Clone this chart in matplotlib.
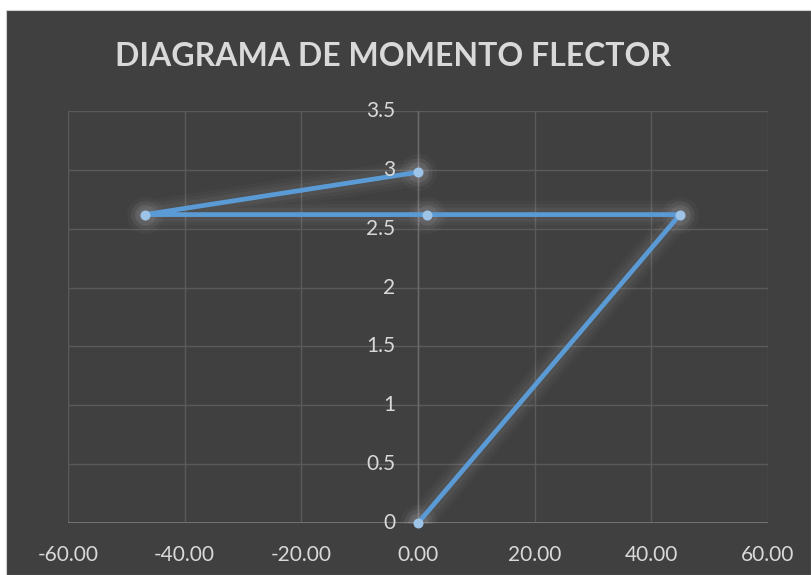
import matplotlib
matplotlib.use("Agg")
import matplotlib.pyplot as plt
from matplotlib.patches import Rectangle

# Data (moment diagram points)
x_vals = [0.0, 44.9, 1.5, -46.8, 0.0]
y_vals = [0.0, 2.62, 2.62, 2.62, 2.98]
x_ticks = [-60, -40, -20, 0, 20, 40, 60]
y_ticks = [0, 0.5, 1, 1.5, 2, 2.5, 3, 3.5]
y_tick_labels = ["0", "0.5", "1", "1.5", "2", "2.5", "3", "3.5"]
title = "DIAGRAMA DE MOMENTO FLECTOR"

BG = "#404040"
GRID = "#5a5a5a"
TXT = "#d9d9d9"
LINE = "#5b9bd5"
MARK = "#9dc3e6"
FONT = "Lato"

W, H = 811, 575
fig = plt.figure(figsize=(W / 100, H / 100), dpi=100, facecolor="white")
fig.patches.append(Rectangle((6 / W, 0), 1 - 6 / W, 1 - 10 / H, transform=fig.transFigure,
                             facecolor=BG, edgecolor="#d0d0d0", linewidth=0.8, zorder=-5))

ax = fig.add_axes([68 / W, 1 - 523 / H, 700 / W, 412 / H])
ax.set_facecolor(BG)
ax.patch.set_alpha(0)
ax.set_xlim(-60, 60)
ax.set_ylim(0, 3.5)

for s in ax.spines.values():
    s.set_visible(False)
ax.set_xticks(x_ticks)
ax.set_yticks(y_ticks)
ax.tick_params(length=0, labelleft=False, labelbottom=False)
ax.grid(True, color=GRID, linewidth=1.0, zorder=1)
ax.axhline(0, color="#7a7a7a", linewidth=1.2, zorder=2)
ax.axvline(0, color="#6a6a6a", linewidth=1.0, zorder=2)

# x tick labels
for xv in x_ticks:
    ax.annotate(f"{xv:.2f}", xy=(xv, 0), xytext=(0, -23), textcoords="offset points",
                ha="center", va="center", color=TXT, fontsize=15, family=FONT,
                zorder=5, annotation_clip=False)
# y tick labels next to vertical axis at x=0
for yv, lab in zip(y_ticks, y_tick_labels):
    ax.annotate(lab, xy=(0, yv), xytext=(-16.5, 0), textcoords="offset points",
                ha="right", va="center", color=TXT, fontsize=15, family=FONT, zorder=5)

# glow
for lw, a in [(20, 0.03), (15, 0.04), (10, 0.06)]:
    ax.plot(x_vals, y_vals, color="#cfcbd8", linewidth=lw, alpha=a,
            solid_capstyle="round", solid_joinstyle="round", zorder=3)
for s, a in [(700, 0.04), (420, 0.06), (220, 0.09)]:
    ax.scatter(x_vals, y_vals, s=s, color="#d6d2de", alpha=a, linewidths=0, zorder=3)

ax.plot(x_vals, y_vals, color=LINE, linewidth=3.4, solid_capstyle="round",
        solid_joinstyle="round", zorder=4, clip_on=False)
ax.scatter(x_vals, y_vals, s=52, color=MARK, linewidths=0, zorder=5, clip_on=False)

fig.text(393 / W, 1 - 57 / H, title, ha="center", va="center", color=TXT,
         fontsize=23, fontweight="bold", family=FONT)

fig.savefig("out.png", dpi=100, facecolor="white")
